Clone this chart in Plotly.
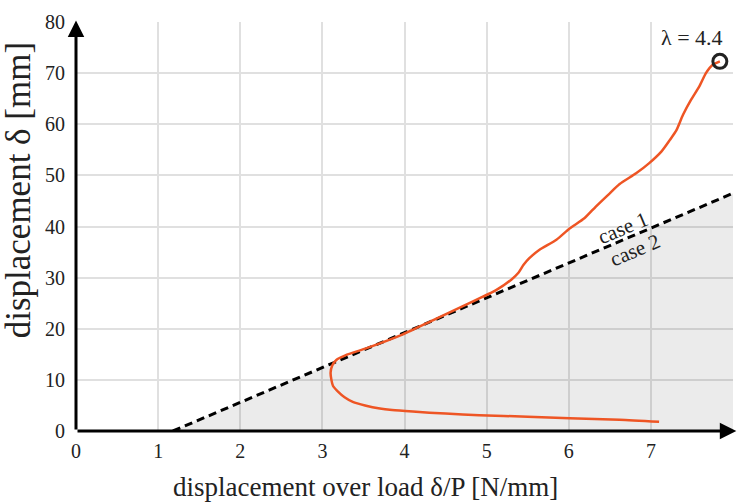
import plotly.graph_objects as go

# Data
curve_x = [7.10, 6.62, 6.01, 5.50, 4.91, 4.50, 4.10, 3.85, 3.70, 3.52, 3.37, 3.27, 3.19, 3.13, 3.11, 3.10, 3.12, 3.17,
           3.28, 3.54, 3.98, 4.35, 4.75, 5.12, 5.30, 5.39, 5.45, 5.52, 5.64, 5.85, 6.01, 6.19, 6.33, 6.48,
           6.62, 6.82, 6.98, 7.13, 7.23, 7.31, 7.39, 7.49, 7.59, 7.67, 7.75, 7.84]
curve_y = [1.8, 2.2, 2.5, 2.8, 3.1, 3.4, 3.8, 4.1, 4.4, 5.0, 5.7, 6.6, 7.7, 8.8, 10.0, 11.4, 12.8, 13.9,
           14.8, 16.2, 18.9, 21.7, 24.7, 27.6, 29.6, 31.0, 32.5, 33.8, 35.4, 37.4, 39.6, 41.6, 43.9, 46.2,
           48.3, 50.4, 52.4, 54.7, 56.9, 58.8, 61.8, 64.8, 67.4, 70.0, 71.6, 72.3]
boundary_x = [1.18, 8.0]
boundary_y = [0.0, 46.5]
end_point = (7.84, 72.3)
x_ticks = [0, 1, 2, 3, 4, 5, 6, 7, 8]
y_ticks = [0, 10, 20, 30, 40, 50, 60, 70, 80]

FONT = "Liberation Serif, Times New Roman, serif"
fig = go.Figure()

# shaded region (case 2)
fig.add_trace(go.Scatter(
    x=[boundary_x[0], boundary_x[1], boundary_x[1], boundary_x[0]],
    y=[boundary_y[0], boundary_y[1], 0, 0],
    fill="toself", fillcolor="rgba(0,0,0,0.08)", line=dict(width=0),
    mode="lines", hoverinfo="skip", showlegend=False))

# dashed boundary
fig.add_trace(go.Scatter(
    x=boundary_x, y=boundary_y, mode="lines",
    line=dict(color="black", width=3, dash="8px,5px"), showlegend=False))

# orange curve
fig.add_trace(go.Scatter(
    x=curve_x, y=curve_y, mode="lines",
    line=dict(color="#EE5524", width=2.5, shape="spline", smoothing=0.6), showlegend=False))

# end circle
fig.add_trace(go.Scatter(
    x=[end_point[0]], y=[end_point[1]], mode="markers",
    marker=dict(symbol="circle-open", size=14, color="#222", line=dict(width=3)),
    showlegend=False, cliponaxis=False))

axis_common = dict(showgrid=True, gridcolor="#e0e0e0", gridwidth=1.5, zeroline=False,
                   showline=False, ticks="")
fig.update_xaxes(range=[0, 8], tickvals=x_ticks, ticklabelstandoff=6,
                 tickfont=dict(family=FONT, size=20, color="#222"), **axis_common)
fig.update_yaxes(range=[0, 80], tickvals=y_ticks, ticklabelstandoff=10,
                 tickfont=dict(family=FONT, size=20, color="#222"), **axis_common)

anns = []
# axes with arrows
anns.append(dict(x=8.04, y=0, ax=0, ay=0, xref="x", yref="y", axref="x", ayref="y",
                 showarrow=True, arrowhead=2, arrowsize=1.1, arrowwidth=3, arrowcolor="black", text=""))
anns.append(dict(x=0, y=80.3, ax=0, ay=0, xref="x", yref="y", axref="x", ayref="y",
                 showarrow=True, arrowhead=2, arrowsize=1.1, arrowwidth=3, arrowcolor="black", text=""))
# labels
anns.append(dict(x=7.50, y=76.9, xref="x", yref="y", text="λ = 4.4", showarrow=False,
                 font=dict(family=FONT, size=22, color="#222")))
anns.append(dict(x=6.66, y=39.7, xref="x", yref="y", text="case 1", showarrow=False, textangle=-23,
                 font=dict(family=FONT, size=21, color="#222")))
anns.append(dict(x=6.81, y=35.4, xref="x", yref="y", text="case 2", showarrow=False, textangle=-23,
                 font=dict(family=FONT, size=21, color="#222")))
anns.append(dict(x=0.44, y=-0.137, xref="paper", yref="paper", text="displacement over load δ/P [N/mm]",
                 showarrow=False, xanchor="center", yanchor="middle",
                 font=dict(family=FONT, size=27, color="#222")))
anns.append(dict(x=-0.088, y=0.589, xref="paper", yref="paper", text="displacement δ [mm]",
                 showarrow=False, xanchor="center", yanchor="middle", textangle=-90,
                 font=dict(family=FONT, size=35, color="#222")))

fig.update_layout(
    width=737, height=502,
    margin=dict(l=76, r=4, t=22, b=71),
    plot_bgcolor="white", paper_bgcolor="white",
    annotations=anns, showlegend=False)

fig.write_html("out.html")
